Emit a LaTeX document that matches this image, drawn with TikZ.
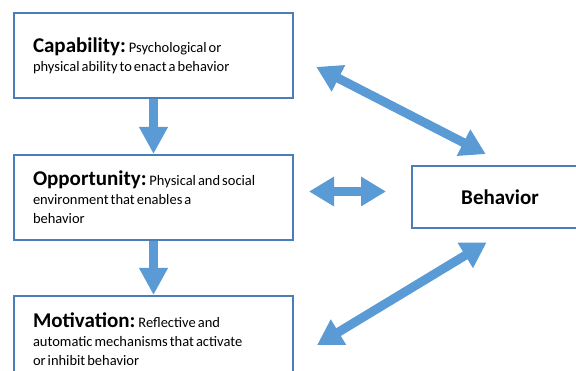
\documentclass[tikz,border=0pt]{standalone}
\usepackage{fontspec}
\setmainfont{Carlito}
\usepackage{tikz}
\usetikzlibrary{positioning}
\usetikzlibrary{arrows.meta}
\usepackage{xcolor}
\definecolor{boxblue}{HTML}{4A7EBB}
\definecolor{arrowblue}{HTML}{5B9BD5}
\newcommand{\tightspace}{\spaceskip=2pt plus 1pt minus 0.5pt\xspaceskip=3pt\relax}
\tikzset{
  textbox/.style={draw=boxblue,line width=2pt,fill=white,rectangle,minimum width=279pt,minimum height=85pt,text width=241pt,inner xsep=19pt,align=left,font=\fontsize{14.5}{19}\selectfont},
  bigarrow/.style={draw=arrowblue,line width=9pt,-{Triangle[width=27pt,length=27pt]}},
  twoarrow/.style={draw=arrowblue,line width=9pt,{Triangle[width=28pt,length=25pt]}-{Triangle[width=28pt,length=25pt]}}
}
\newcommand{\headword}[1]{{\fontsize{21}{19}\selectfont\bfseries #1}}
\begin{document}
\begin{tikzpicture}[x=1pt,y=1pt]
	\useasboundingbox (0,0) rectangle (576,-371);
	\clip (0,0) rectangle (576,-371);
	\node[textbox,anchor=north west] (cap) at (13,-12) {\tightspace\headword{Capability:} Psychological or\\physical ability to enact a behavior};
	\node[textbox,below=55pt of cap] (opp) {\tightspace\headword{Opportunity:} Physical and social\\environment that enables a\\behavior};
	\node[textbox,below=54pt of opp,minimum height=86pt] (mot) {\tightspace\headword{Motivation:} Reflective and\\automatic mechanisms that activate\\or inhibit behavior};
	\node[draw=boxblue,line width=2pt,minimum width=176pt,minimum height=62pt,font=\fontsize{21}{19}\selectfont\bfseries,right=117pt of opp] (beh) {Behavior};
	\draw[bigarrow] (cap.south)--(opp.north);
	\draw[bigarrow] (opp.south)--(mot.north);
	\draw[twoarrow,shorten <=25pt,shorten >=25pt] (cap.east)--([xshift=8pt]beh.north);
	\draw[twoarrow,shorten <=15pt,shorten >=25pt] ([yshift=6pt]opp.east)--([yshift=6pt]beh.west);
	\draw[twoarrow,shorten <=27pt,shorten >=25pt] ([yshift=-20pt]mot.east)--([xshift=8pt]beh.south);
\end{tikzpicture}
\end{document}
